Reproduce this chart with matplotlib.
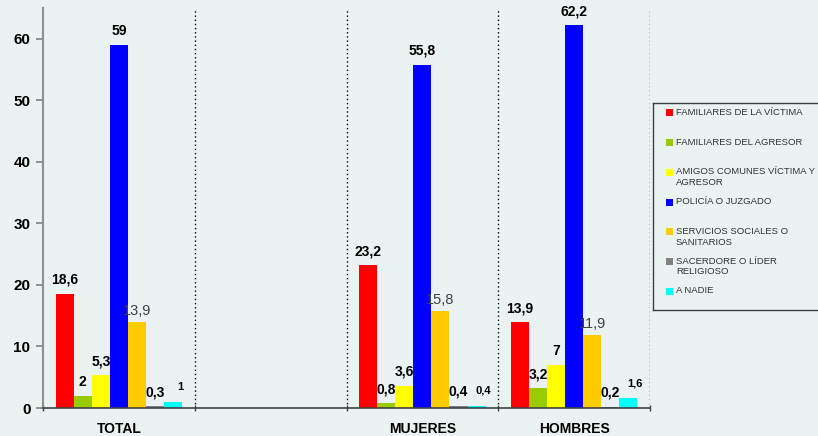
import matplotlib.pyplot as plt
import numpy as np
from matplotlib.patches import Rectangle
from matplotlib.lines import Line2D

plt.rcParams['font.family'] = ['Liberation Sans', 'DejaVu Sans']

# groups on the x axis (second one is an empty spacer in the original)
groups = ['TOTAL', '', 'MUJERES', 'HOMBRES']

series = [
    'FAMILIARES DE LA VÍCTIMA',
    'FAMILIARES DEL AGRESOR',
    'AMIGOS COMUNES VÍCTIMA Y\nAGRESOR',
    'POLICÍA O JUZGADO',
    'SERVICIOS SOCIALES O\nSANITARIOS',
    'SACERDORE O LÍDER\nRELIGIOSO',
    'A NADIE',
]
colors = ['#ff0000', '#99cc00', '#ffff00', '#0000ff', '#ffcc00', '#808080', '#00ffff']

# values per series: TOTAL, (empty), MUJERES, HOMBRES
familiares_victima = [18.6, None, 23.2, 13.9]
familiares_agresor = [2, None, 0.8, 3.2]
amigos_comunes = [5.3, None, 3.6, 7]
policia_juzgado = [59, None, 55.8, 62.2]
servicios_sociales = [13.9, None, 15.8, 11.9]
sacerdote = [0.3, None, 0.4, 0.2]
a_nadie = [1, None, 0.4, 1.6]

values = [familiares_victima, familiares_agresor, amigos_comunes,
          policia_juzgado, servicios_sociales, sacerdote, a_nadie]

bg = '#eaf2f2'
W, H = 818, 436
fig = plt.figure(figsize=(W / 100, H / 100), dpi=100, facecolor=bg)
ax = fig.add_axes([43 / W, 1 - 408 / H, 607 / W, 400 / H], facecolor=bg)

bw = 0.119
x = np.arange(len(groups))


def fmt(v):
    if float(v).is_integer():
        return str(int(v))
    return f'{v:.1f}'.replace('.', ',')


for i, (vals, c) in enumerate(zip(values, colors)):
    for g, v in enumerate(vals):
        if v is None:
            continue
        xc = x[g] + (i - 3) * bw
        ax.bar(xc, v, width=bw, color=c, edgecolor='none', zorder=2)
        if i == 4:
            ax.annotate(fmt(v), (xc, v), xytext=(0, 3), textcoords='offset points',
                        ha='center', va='bottom', fontsize=10.5, color='#404040')
        elif i == 6:
            ax.annotate(fmt(v), (xc, v), xytext=(5, 7), textcoords='offset points',
                        ha='center', va='bottom', fontsize=8, fontweight='bold')
        else:
            ax.annotate(fmt(v), (xc, v), xytext=(0, 5), textcoords='offset points',
                        ha='center', va='bottom', fontsize=10, fontweight='bold')

ax.set_xlim(-0.5, len(groups) - 0.5)
ax.set_ylim(0, 65)
ax.set_yticks(range(0, 61, 10))
ax.tick_params(axis='y', labelsize=11, length=5, width=1.2, color='#808080', pad=4)
for t in ax.get_yticklabels():
    t.set_fontweight('bold')

ax.set_xticks(np.arange(-0.5, len(groups), 1.0))
ax.set_xticklabels([])
ax.tick_params(axis='x', which='major', length=5, width=1, color='#404040', direction='inout')
ax.set_xticks(x, minor=True)
ax.set_xticklabels(groups, minor=True, fontsize=10, fontweight='bold')
ax.tick_params(axis='x', which='minor', length=0, pad=10)

for b in np.arange(0.5, len(groups), 1.0):
    ax.axvline(b, color='black', linestyle=(0, (1, 2)), linewidth=1, zorder=1)

ax.spines['top'].set_visible(False)
ax.spines['right'].set_visible(False)
ax.spines['left'].set_color('#909090')
ax.spines['left'].set_linewidth(1.5)
ax.spines['bottom'].set_color('#404040')
ax.spines['bottom'].set_linewidth(1.2)

# legend drawn by hand to mimic the uneven Excel layout
def fx(px):
    return px / W


def fy(py):
    return 1 - py / H


# box is cut by the right edge of the image, so only three sides show
for xs, ys in [([653, 818], [103, 103]), ([653, 653], [103, 310]), ([653, 818], [310, 310])]:
    fig.add_artist(Line2D([fx(v) for v in xs], [fy(v) for v in ys],
                          transform=fig.transFigure, color='#404040', linewidth=1))
for i, (lab, c) in enumerate(zip(series, colors)):
    yc = 113 + i * 29.7
    fig.patches.append(Rectangle((fx(666), fy(yc + 3.5)), fx(7), 7 / H,
                                 transform=fig.transFigure, facecolor=c, edgecolor='none'))
    fig.text(fx(676), fy(yc - 5), lab, fontsize=6.8, color='#333333',
             ha='left', va='top', linespacing=1.25)

fig.savefig('out.png', dpi=100, facecolor=bg)
